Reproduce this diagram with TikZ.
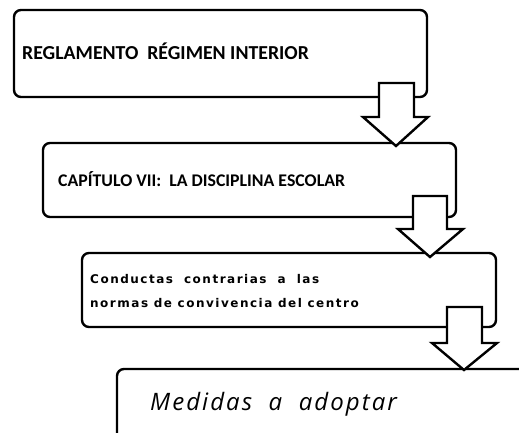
\documentclass[tikz,border=0pt]{standalone}
\usepackage{fontspec}
\setmainfont{Carlito}
\newfontfamily\verdanafont[LetterSpace=12.5]{DejaVu Sans}
\newfontfamily\handfont[LetterSpace=8.5]{Open Sans}
\begin{document}
\begin{tikzpicture}[x=1pt,y=-1pt,
  box/.style={draw=black, line width=2.4pt, rounded corners=7pt, fill=white},
  blockarrow/.style={draw=black, line width=2.4pt, fill=white, line join=miter},
  titletext/.style={anchor=base west, inner sep=0pt, font=\bfseries\fontsize{19.8}{21}\selectfont},
  captext/.style={anchor=base west, inner sep=0pt, font=\bfseries\fontsize{17.8}{20}\selectfont},
  condtext/.style={anchor=base west, inner sep=0pt, align=left, font=\verdanafont\bfseries\fontsize{12}{24}\selectfont},
  handtext/.style={anchor=base west, inner sep=0pt, font=\handfont\itshape\fontsize{24}{26}\selectfont}]
\useasboundingbox (0,0) rectangle (519,432);
\clip (0,0) rectangle (519,432);
% boxes
\draw[box] (14,10) rectangle (427,97);
\node[inner sep=0pt] (b1) at (220.5,53.5) {};
\draw[box] (43,143) rectangle (456,217);
\node[inner sep=0pt] (b2) at (249.5,180) {};
\draw[box] (82,253) rectangle (496,327);
\node[inner sep=0pt] (b3) at (289,290) {};
\draw[box] (117,369) rectangle (540,460);
\node[inner sep=0pt] (b4) at (330,414) {};
% texts
\node[titletext] (t1) at (22,59) {REGLAMENTO\ \ RÉGIMEN INTERIOR};
\node[captext] (t2) at (58,186) {CAPÍTULO VII:\ \ LA DISCIPLINA ESCOLAR};
\node[condtext] (t3) at (90,283) {\makebox[229pt][s]{Conductas\hfill contrarias\hfill a\hfill las}};
\node[condtext] (t3b) at (90,307) {normas de convivencia del centro};
\node[handtext] (t4) at (150,410) {Medidas\ \ a\ \ adoptar};
% block arrows (drawn over the boxes)
\draw[blockarrow] (379,83) -- (414,83) -- (414,117) -- (428,117) -- (396,146) -- (363,117) -- (379,117) -- cycle;
\draw[blockarrow] (413,196) -- (447,196) -- (447,229) -- (463,229) -- (430,257) -- (398,229) -- (413,229) -- cycle;
\draw[blockarrow] (447,307) -- (482,307) -- (482,343) -- (497,343) -- (464,370) -- (432,343) -- (447,343) -- cycle;
\end{tikzpicture}
\end{document}
